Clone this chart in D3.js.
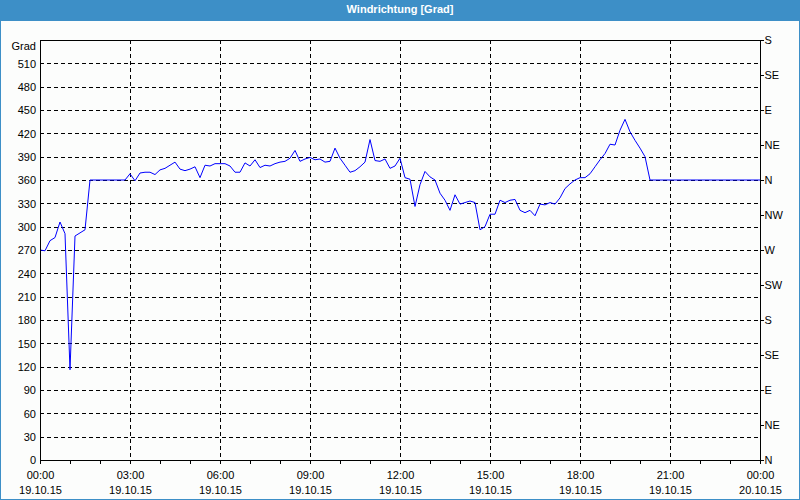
<!DOCTYPE html>
<html>
<head>
<meta charset="utf-8">
<script src="https://cdn.jsdelivr.net/npm/d3@7"></script>
<style>
  html, body { margin: 0; padding: 0; background: #fff; }
  svg { display: block; }
  text { font-family: "Liberation Sans", Arial, sans-serif; font-size: 11px; fill: #000; }
</style>
</head>
<body>
<svg id="chart" width="800" height="500"></svg>
<script>
// ---- data ----
const title = "Windrichtung [Grad]";
const yUnit = "Grad";
const startTime = new Date(2015, 9, 19, 0, 0);
const endTime = new Date(2015, 9, 20, 0, 0);
const stepMinutes = 10;
// wind direction in degrees, one value every 10 minutes from 19.10.15 00:00
const windValues = [
  270, 269, 282, 286, 306, 291, 116, 288, 292, 296,
  360, 360, 360, 360, 360, 360, 360, 360, 368, 359,
  369, 370, 370, 367, 373, 375, 379, 383, 374, 372,
  374, 377, 363, 379, 378, 381, 381, 381, 378, 370,
  370, 382, 378, 386, 376, 379, 378, 381, 383, 384,
  388, 398, 384, 387, 389, 386, 387, 383, 384, 401,
  388, 379, 370, 372, 377, 383, 412, 385, 384, 387,
  375, 378, 388, 363, 361, 326, 354, 371, 364, 360,
  343, 334, 321, 341, 329, 331, 333, 331, 296, 300,
  316, 316, 334, 331, 334, 335, 321, 318, 321, 314,
  329, 328, 331, 329, 337, 349, 355, 360, 363, 363,
  368, 377, 386, 394, 406, 405, 424, 438, 422, 411,
  401, 390, 360, 360, 360, 360, 360, 360, 360, 360,
  360, 360, 360, 360, 360, 360, 360, 360, 360, 360,
  360, 360, 360, 360, 360
];
const leftTicks = [0, 30, 60, 90, 120, 150, 180, 210, 240, 270, 300, 330, 360, 390, 420, 450, 480, 510];
const rightTickValues = [0, 45, 90, 135, 180, 225, 270, 315, 360, 405, 450, 495, 540];
const rightTickLabels = ["N", "NE", "E", "SE", "S", "SW", "W", "NW", "N", "NE", "E", "SE", "S"];
const yMax = 540;

// ---- layout ----
const W = 800, H = 500;
const plot = { left: 40, right: 760, top: 40, bottom: 460 };

const svg = d3.select("#chart");

// frame
svg.append("rect").attr("x", 0).attr("y", 0).attr("width", W).attr("height", H).attr("fill", "#3d8fc7");
svg.append("rect").attr("x", 1).attr("y", 21).attr("width", W - 2).attr("height", H - 22).attr("fill", "#fcfdfc");
svg.append("text").attr("x", W / 2).attr("y", 10.5)
  .attr("text-anchor", "middle").attr("dominant-baseline", "middle")
  .style("font-weight", "bold").style("fill", "#fff").text(title);

const data = windValues.map((v, i) => ({ t: new Date(startTime.getTime() + i * stepMinutes * 60000), v }));

const x = d3.scaleTime().domain([startTime, endTime]).range([plot.left, plot.right]);
const y = d3.scaleLinear().domain([0, yMax]).range([plot.bottom, plot.top]);

// grid
const grid = svg.append("g").attr("stroke", "#000").attr("stroke-dasharray", "4,3").attr("shape-rendering", "crispEdges");
grid.selectAll("line.h").data(leftTicks.filter(d => d > 0)).enter().append("line")
  .attr("x1", plot.left).attr("x2", plot.right)
  .attr("y1", d => Math.round(y(d)) + 0.5).attr("y2", d => Math.round(y(d)) + 0.5);
const vTicks = d3.timeHour.every(3).range(startTime, endTime).filter(d => +d > +startTime);
grid.selectAll("line.v").data(vTicks).enter().append("line")
  .attr("y1", plot.top).attr("y2", plot.bottom)
  .attr("x1", d => Math.round(x(d)) + 0.5).attr("x2", d => Math.round(x(d)) + 0.5);

// line
const line = d3.line().x(d => x(d.t)).y(d => y(d.v));
svg.append("path").datum(data).attr("d", line)
  .attr("fill", "none").attr("stroke", "#0000ff").attr("stroke-width", 1);

// border
svg.append("rect").attr("x", plot.left + 0.5).attr("y", plot.top + 0.5)
  .attr("width", plot.right - plot.left).attr("height", plot.bottom - plot.top)
  .attr("fill", "none").attr("stroke", "#000").attr("shape-rendering", "crispEdges");

// left axis
const gl = svg.append("g").attr("transform", `translate(${plot.left},0)`)
  .call(d3.axisLeft(y).tickValues(leftTicks).tickSize(0).tickPadding(4));
gl.select(".domain").remove();
gl.selectAll("text").style("font-family", null).style("font-size", null).attr("dy", "0.35em");
svg.append("text").attr("x", plot.left - 4).attr("y", 46).attr("text-anchor", "end").attr("dy", "0.35em").text(yUnit);

// right axis
const gr = svg.append("g").attr("transform", `translate(${plot.right + 0.5},0)`)
  .call(d3.axisRight(y).tickValues(rightTickValues).tickFormat((d, i) => rightTickLabels[i]).tickSize(3).tickPadding(1));
gr.select(".domain").remove();
gr.selectAll("line").attr("shape-rendering", "crispEdges");
gr.selectAll("text").style("font-family", null).style("font-size", null);

// bottom axis: hourly ticks
const gbMinor = svg.append("g").attr("transform", `translate(0,${plot.bottom + 0.5})`)
  .call(d3.axisBottom(x).ticks(d3.timeHour.every(1)).tickSize(3).tickFormat(""));
gbMinor.select(".domain").remove();
gbMinor.selectAll("line").attr("shape-rendering", "crispEdges");

// bottom labels every 3 hours
const fmtTime = d3.timeFormat("%H:%M");
const fmtDate = d3.timeFormat("%d.%m.%y");
const gb = svg.append("g").attr("transform", `translate(0,${plot.bottom})`)
  .call(d3.axisBottom(x).ticks(d3.timeHour.every(3)).tickSize(0).tickPadding(0).tickFormat(""));
gb.select(".domain").remove();
gb.selectAll(".tick").each(function(d) {
  const g = d3.select(this);
  g.append("text").attr("y", 15).attr("dy", "0.35em").attr("text-anchor", "middle").text(fmtTime(d));
  g.append("text").attr("y", 30).attr("dy", "0.35em").attr("text-anchor", "middle").text(fmtDate(d));
});
</script>
</body>
</html>
